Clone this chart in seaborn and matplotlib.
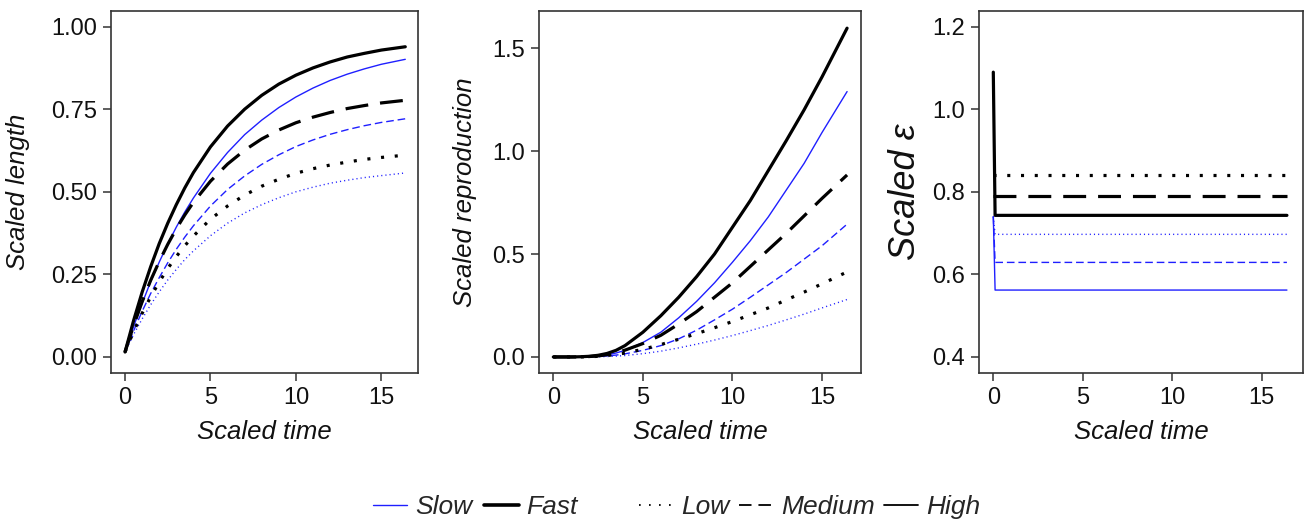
import numpy as np
import pandas as pd
import matplotlib
matplotlib.use("Agg")
import matplotlib.pyplot as plt
from matplotlib.lines import Line2D
from matplotlib.ticker import FormatStrFormatter
import seaborn as sns

# time points
t = [0, 0.5, 1, 1.5, 2, 2.5, 3, 3.5, 4, 5, 6, 7, 8, 9, 10, 11, 12, 13, 14, 15, 16.4]

# scaled length
len_slow_low = [0.015, 0.068, 0.115, 0.158, 0.197, 0.233, 0.265, 0.295, 0.321, 0.367, 0.405, 0.436, 0.461,
                0.482, 0.500, 0.514, 0.526, 0.535, 0.543, 0.549, 0.557]
len_slow_med = [0.015, 0.079, 0.138, 0.192, 0.240, 0.285, 0.326, 0.363, 0.397, 0.457, 0.507, 0.548, 0.583,
                0.612, 0.637, 0.657, 0.674, 0.688, 0.700, 0.710, 0.721]
len_slow_high = [0.015, 0.092, 0.162, 0.228, 0.287, 0.342, 0.393, 0.439, 0.481, 0.556, 0.619, 0.673, 0.717,
                 0.755, 0.787, 0.814, 0.837, 0.856, 0.872, 0.886, 0.901]
len_fast_low = [0.015, 0.077, 0.132, 0.182, 0.227, 0.268, 0.304, 0.337, 0.366, 0.417, 0.457, 0.490, 0.517,
                0.538, 0.556, 0.570, 0.581, 0.590, 0.598, 0.604, 0.611]
len_fast_med = [0.015, 0.095, 0.167, 0.232, 0.289, 0.341, 0.388, 0.430, 0.468, 0.532, 0.584, 0.626, 0.660,
                0.687, 0.709, 0.726, 0.740, 0.752, 0.761, 0.769, 0.777]
len_fast_high = [0.015, 0.110, 0.196, 0.273, 0.343, 0.405, 0.461, 0.512, 0.558, 0.636, 0.699, 0.750, 0.792,
                 0.826, 0.853, 0.875, 0.893, 0.908, 0.919, 0.929, 0.939]

# scaled reproduction
rep_slow_low = [0, 0, 0, 0, 0, 0.001, 0.002, 0.004, 0.007, 0.016, 0.028, 0.044, 0.062,
                0.082, 0.104, 0.128, 0.153, 0.180, 0.208, 0.238, 0.279]
rep_slow_med = [0, 0, 0, 0, 0.001, 0.002, 0.005, 0.009, 0.015, 0.032, 0.055, 0.088, 0.130,
                0.180, 0.232, 0.290, 0.350, 0.410, 0.475, 0.540, 0.645]
rep_slow_high = [0, 0, 0, 0, 0.001, 0.004, 0.010, 0.019, 0.032, 0.070, 0.120, 0.190, 0.270,
                 0.360, 0.460, 0.565, 0.680, 0.810, 0.940, 1.090, 1.289]
rep_fast_low = [0, 0, 0, 0, 0.001, 0.003, 0.007, 0.012, 0.019, 0.037, 0.060, 0.086, 0.113,
                0.142, 0.172, 0.205, 0.238, 0.277, 0.315, 0.355, 0.413]
rep_fast_med = [0, 0, 0, 0, 0.002, 0.005, 0.011, 0.020, 0.033, 0.065, 0.105, 0.160, 0.220,
                0.290, 0.360, 0.440, 0.520, 0.600, 0.685, 0.770, 0.884]
rep_fast_high = [0, 0, 0, 0.001, 0.003, 0.008, 0.017, 0.032, 0.055, 0.120, 0.200, 0.290, 0.390,
                 0.500, 0.630, 0.760, 0.905, 1.050, 1.200, 1.360, 1.597]

# scaled epsilon (drops right after t=0, then flat)
t_eps = [0, 0.1, 16.4]
eps_slow_low = [0.74, 0.697, 0.697]
eps_slow_med = [0.74, 0.629, 0.629]
eps_slow_high = [0.74, 0.562, 0.562]
eps_fast_low = [0.842, 0.842, 0.842]
eps_fast_med = [0.79, 0.79, 0.79]
eps_fast_high = [1.09, 0.743, 0.743]

speeds = ["Slow", "Fast"]
levels = ["Low", "Medium", "High"]

series = {
    "length": {("Slow", "Low"): len_slow_low, ("Slow", "Medium"): len_slow_med, ("Slow", "High"): len_slow_high,
               ("Fast", "Low"): len_fast_low, ("Fast", "Medium"): len_fast_med, ("Fast", "High"): len_fast_high},
    "repro": {("Slow", "Low"): rep_slow_low, ("Slow", "Medium"): rep_slow_med, ("Slow", "High"): rep_slow_high,
              ("Fast", "Low"): rep_fast_low, ("Fast", "Medium"): rep_fast_med, ("Fast", "High"): rep_fast_high},
    "eps": {("Slow", "Low"): eps_slow_low, ("Slow", "Medium"): eps_slow_med, ("Slow", "High"): eps_slow_high,
            ("Fast", "Low"): eps_fast_low, ("Fast", "Medium"): eps_fast_med, ("Fast", "High"): eps_fast_high},
}

sns.set_style("ticks")
plt.rcParams["font.family"] = ["Liberation Sans", "DejaVu Sans"]
plt.rcParams["lines.scale_dashes"] = False

color = {"Slow": "#1f1fff", "Fast": "black"}
width = {"Slow": 1.0, "Fast": 2.3}
dash = {
    ("Slow", "Low"): (0, (0.8, 2.2)),
    ("Slow", "Medium"): (0, (5.5, 2.8)),
    ("Slow", "High"): "-",
    ("Fast", "Low"): (0, (2.2, 7.7)),
    ("Fast", "Medium"): (0, (16.5, 8.6)),
    ("Fast", "High"): "-",
}

fig = plt.figure(figsize=(13.06, 5.23), dpi=100)
bottom, height = 0.2868, 0.692
ax1 = fig.add_axes([0.085, bottom, 0.235, height])
ax2 = fig.add_axes([0.4127, bottom, 0.2466, height])
ax3 = fig.add_axes([0.7496, bottom, 0.248, height])

def draw(ax, key, x):
    for sp in speeds:
        for lv in levels:
            df = pd.DataFrame({"x": x, "y": series[key][(sp, lv)]})
            sns.lineplot(data=df, x="x", y="y", ax=ax, color=color[sp], lw=width[sp],
                         linestyle=dash[(sp, lv)], estimator=None, sort=False)

draw(ax1, "length", t)
draw(ax2, "repro", t)
draw(ax3, "eps", t_eps)

ax1.set_xlim(-0.82, 17.14)
ax1.set_ylim(-0.0485, 1.047)
ax1.set_yticks([0, 0.25, 0.5, 0.75, 1.0])
ax1.yaxis.set_major_formatter(FormatStrFormatter("%.2f"))

ax2.set_xlim(-0.80, 17.18)
ax2.set_ylim(-0.078, 1.68)
ax2.set_yticks([0, 0.5, 1.0, 1.5])
ax2.yaxis.set_major_formatter(FormatStrFormatter("%.1f"))

ax3.set_xlim(-0.80, 17.29)
ax3.set_ylim(0.361, 1.238)
ax3.set_yticks([0.4, 0.6, 0.8, 1.0, 1.2])
ax3.yaxis.set_major_formatter(FormatStrFormatter("%.1f"))

ylabels = ["Scaled length", "Scaled reproduction", "Scaled ε"]
ylab_x = [-0.264, -0.193, -0.172]
for ax, lab, lx in zip([ax1, ax2, ax3], ylabels, ylab_x):
    ax.set_xticks([0, 5, 10, 15])
    ax.set_xlabel("Scaled time", fontsize=18.5, style="italic", labelpad=8, color="#111111")
    fs = 26 if "ε" in lab else 18.5
    ax.set_ylabel(lab, fontsize=fs, style="italic", color="#111111")
    ax.yaxis.set_label_coords(lx, 0.5)
    ax.tick_params(labelsize=17, length=6, width=1.1, colors="#333333", labelcolor="#111111", pad=4)
    for s in ax.spines.values():
        s.set_visible(True)
        s.set_color("#333333")
        s.set_linewidth(1.2)

leg_font = {"size": 19, "style": "italic"}
h1 = [Line2D([], [], color=color["Slow"], lw=1.0),
      Line2D([], [], color="black", lw=2.6)]
fig.legend(h1, speeds, loc="center", bbox_to_anchor=(0.364, 0.031), ncol=2, frameon=False,
           prop=leg_font, handlelength=1.3, handletextpad=0.3, columnspacing=0.45, borderpad=0)
h2 = [Line2D([], [], color="black", lw=1.3, linestyle=(0, (1.2, 6))),
      Line2D([], [], color="black", lw=1.3, linestyle=(0, (9, 5))),
      Line2D([], [], color="black", lw=1.3)]
fig.legend(h2, levels, loc="center", bbox_to_anchor=(0.62, 0.031), ncol=3, frameon=False,
           prop=leg_font, handlelength=1.3, handletextpad=0.3, columnspacing=0.35, borderpad=0)

fig.savefig("out.png", dpi=100)
